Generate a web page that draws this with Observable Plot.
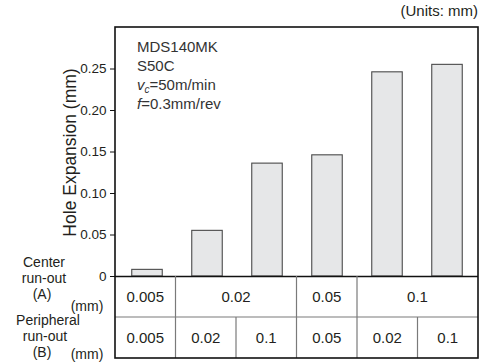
<!DOCTYPE html>
<html><head><meta charset="utf-8">
<script src="https://cdn.jsdelivr.net/npm/d3@7"></script>
<script src="https://cdn.jsdelivr.net/npm/@observablehq/plot@0.6"></script>
<style>
body{margin:0;background:#fff;}
#chart svg{display:block;}
</style>
</head><body><div id="chart"></div>
<script>
// ---- data ----
const conditions = ["c1","c2","c3","c4","c5","c6"];
const centerRunout = ["0.005","0.02","0.02","0.05","0.1","0.1"];
const peripheralRunout = ["0.005","0.02","0.1","0.05","0.02","0.1"];
const holeExpansion = [0.008, 0.055, 0.136, 0.146, 0.246, 0.255];
const yTicks = [0, 0.05, 0.10, 0.15, 0.20, 0.25];
const yDomain = [0, 0.3];
const yLabel = "Hole Expansion (mm)";
const unitsText = "(Units: mm)";
const rowLabelA = ["Center", "run-out", "(A)"];
const rowLabelB = ["Peripheral", "run-out", "(B)"];
const unitLabel = "(mm)";

const data = conditions.map((c, i) => ({cond: c, value: holeExpansion[i], a: centerRunout[i], b: peripheralRunout[i]}));

const W = 483, H = 362;
const mL = 115, mR = 5, mT = 27, mB = 86;
const rowH = 41;
const font = "'Liberation Sans', Arial, Helvetica, sans-serif";
const ink = "#231f20";

const plot = Plot.plot({
  width: W, height: H,
  marginLeft: mL, marginRight: mR, marginTop: mT, marginBottom: mB,
  style: {fontFamily: font, fontSize: "13px", color: ink, background: "#fff"},
  x: {domain: conditions, padding: 0, axis: null},
  y: {domain: yDomain},
  marks: [
    Plot.barY(data, {x: "cond", y: "value", fill: "#e6e7e8", stroke: "#4a4a4a", strokeWidth: 1.1, insetLeft: 14.75, insetRight: 14.75}),
    Plot.ruleY([0], {stroke: "#111", strokeWidth: 1.3}),
    Plot.axisY({ticks: yTicks, tickFormat: d => d === 0 ? "0" : d.toFixed(2), tickSize: 5, tickPadding: 4, label: null, fontSize: 13.5, stroke: "#111"})
  ]
});
document.getElementById("chart").appendChild(plot);

const svg = d3.select(plot);
const xs = plot.scale("x"), ys = plot.scale("y");
const xBand = d3.scaleBand().domain(xs.domain).range(xs.range).paddingInner(xs.paddingInner ?? 0).paddingOuter(xs.paddingOuter ?? 0).align(xs.align ?? 0.5);
const yLin = d3.scaleLinear().domain(ys.domain).range(ys.range);
const bw = xBand.bandwidth();
const y0 = yLin(0);
const fLeft = xBand(conditions[0]), fRight = xBand(conditions[conditions.length - 1]) + bw;
const fTop = yLin(yDomain[1]);
const fBottom = y0 + 2 * rowH;

const g = svg.append("g").attr("font-family", font).attr("fill", ink);

// table lines
const lineColor = "#7a7a7a";
g.append("line").attr("x1", fLeft).attr("x2", fRight).attr("y1", y0 + rowH).attr("y2", y0 + rowH).attr("stroke", lineColor).attr("stroke-width", 1.2);

// merged groups for row A
const groupsA = [];
centerRunout.forEach((v, i) => {
  const last = groupsA[groupsA.length - 1];
  if (last && last.v === v) last.end = i; else groupsA.push({v, start: i, end: i});
});
groupsA.forEach((gr, k) => {
  const x1 = xBand(conditions[gr.start]), x2 = xBand(conditions[gr.end]) + bw;
  if (k > 0) g.append("line").attr("x1", x1).attr("x2", x1).attr("y1", y0).attr("y2", y0 + rowH).attr("stroke", lineColor).attr("stroke-width", 1.2);
  g.append("text").attr("x", (x1 + x2) / 2).attr("y", y0 + rowH / 2).attr("text-anchor", "middle").attr("dominant-baseline", "central").attr("font-size", 15).text(gr.v);
});
peripheralRunout.forEach((v, i) => {
  const x1 = xBand(conditions[i]);
  if (i > 0) g.append("line").attr("x1", x1).attr("x2", x1).attr("y1", y0 + rowH).attr("y2", fBottom).attr("stroke", lineColor).attr("stroke-width", 1.2);
  g.append("text").attr("x", x1 + bw / 2).attr("y", y0 + rowH * 1.5).attr("text-anchor", "middle").attr("dominant-baseline", "central").attr("font-size", 15).text(v);
});

// outer frame
g.append("rect").attr("x", fLeft).attr("y", fTop).attr("width", fRight - fLeft).attr("height", fBottom - fTop)
  .attr("fill", "none").attr("stroke", "#111").attr("stroke-width", 1.6);

// y label
g.append("text").attr("transform", `translate(70,${(fTop + y0) / 2 + 1}) rotate(-90)`)
  .attr("text-anchor", "middle").attr("dominant-baseline", "central").attr("font-size", 17.5).text(yLabel);

// units
g.append("text").attr("x", fRight).attr("y", 16).attr("text-anchor", "end").attr("font-size", 15).text(unitsText);

// row labels
const rl = (lines, yStart, step, xs) => lines.forEach((t, i) => {
  g.append("text").attr("x", xs[i]).attr("y", yStart + i * step).attr("text-anchor", "middle").attr("font-size", 14).text(t);
});
rl(rowLabelA, y0 - 9, 16, [44, 44, 42]);
rl(rowLabelB, y0 + 49, 16, [48, 45, 42]);
g.append("text").attr("x", 87).attr("y", y0 + 35).attr("text-anchor", "middle").attr("font-size", 14).text(unitLabel);
g.append("text").attr("x", 87).attr("y", H - 3).attr("text-anchor", "middle").attr("font-size", 14).text(unitLabel);

// annotation
const ax = fLeft + 22, ay = fTop + 25, lh = 19;
const ann = g.append("g").attr("fill", "#333").attr("font-size", 15).attr("text-anchor", "start");
ann.append("text").attr("x", ax).attr("y", ay).text("MDS140MK");
ann.append("text").attr("x", ax).attr("y", ay + lh).text("S50C");
const t3 = ann.append("text").attr("x", ax).attr("y", ay + 2 * lh);
t3.append("tspan").attr("font-style", "italic").text("v");
t3.append("tspan").attr("font-style", "italic").attr("font-size", 10).attr("dy", 3).text("c");
t3.append("tspan").attr("dy", -3).text("=50m/min");
const t4 = ann.append("text").attr("x", ax).attr("y", ay + 3 * lh);
t4.append("tspan").attr("font-style", "italic").text("f");
t4.append("tspan").text("=0.3mm/rev");
</script>
</body></html>
